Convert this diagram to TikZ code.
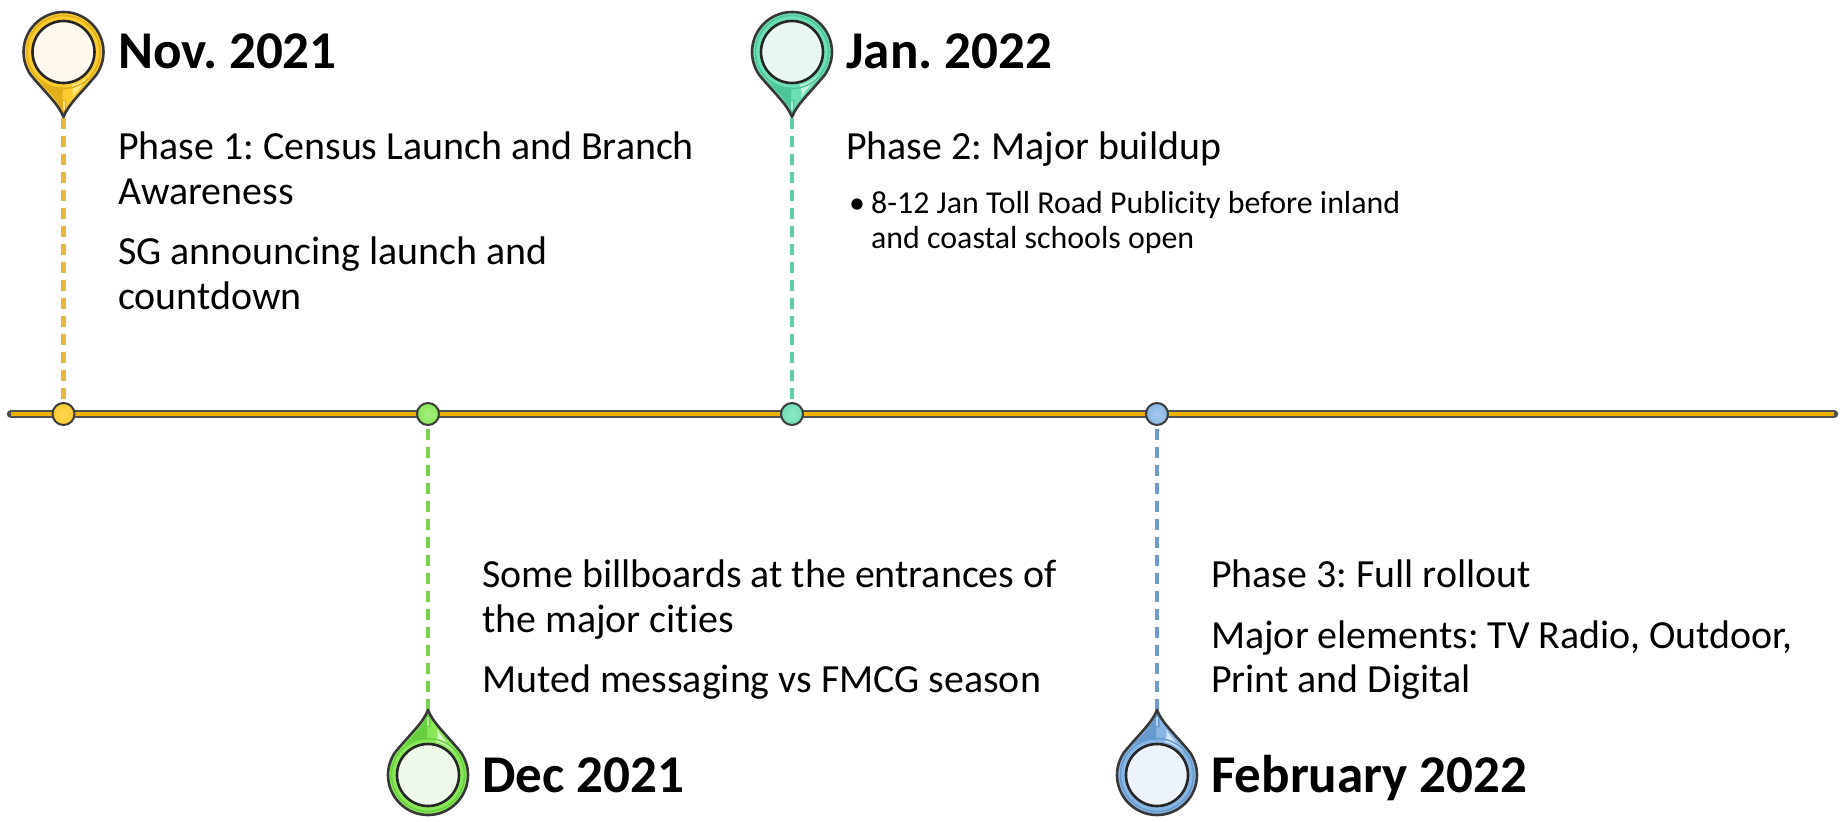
\documentclass[tikz,border=0pt]{standalone}
\usepackage{fontspec}
\setmainfont[RawFeature={-liga}]{Carlito}
\definecolor{goldM}{HTML}{FBCB30}\definecolor{goldD}{HTML}{E0AE18}\definecolor{goldL}{HTML}{FEE88A}\definecolor{goldP}{HTML}{FEF9EC}\definecolor{goldDash}{HTML}{E6B83C}
\definecolor{grnM}{HTML}{88E858}\definecolor{grnD}{HTML}{68D040}\definecolor{grnL}{HTML}{D8F8C4}\definecolor{grnP}{HTML}{EFF9E9}\definecolor{grnDash}{HTML}{78D24E}
\definecolor{tealM}{HTML}{6CE0B4}\definecolor{tealD}{HTML}{4CC698}\definecolor{tealL}{HTML}{C8F5E2}\definecolor{tealP}{HTML}{E8F7F2}\definecolor{tealDash}{HTML}{62D0A4}
\definecolor{bluM}{HTML}{88B6E4}\definecolor{bluD}{HTML}{669ACE}\definecolor{bluL}{HTML}{D4E6F8}\definecolor{bluP}{HTML}{EDF3FA}\definecolor{bluDash}{HTML}{6C9BCC}
\definecolor{railGold}{HTML}{EDB100}\definecolor{railEdge}{HTML}{3C3C3C}
\frenchspacing
\tikzset{
  title/.style={anchor=base west,inner sep=0pt,font=\fontsize{53.1}{53.1}\selectfont\bfseries},
  body/.style={anchor=base west,inner sep=0pt,font=\fontsize{39.9}{39.9}\selectfont},
  small/.style={anchor=base west,inner sep=0pt,font=\fontsize{31.9}{31.9}\selectfont},
  dot/.style={circle,draw=railEdge,line width=2pt,minimum size=22pt,inner sep=0pt},
  dashline/.style={line width=4.2pt,dash pattern=on 11pt off 7pt},
}
% #1 centre x, #2 centre y, #3 yscale (+1 tip down, -1 tip up), #4 colour prefix
\newcommand{\pinmark}[4]{%
\begin{scope}[shift={(#1,#2)},yscale=#3]
  \def\teardrop{(0,65) .. controls (-5,52) and (-17,42) .. (-33,22.6) .. controls (-37.4,16) and (-40,8) .. (-40,0) .. controls (-40,-22) and (-22,-40) .. (0,-40) .. controls (22,-40) and (40,-22) .. (40,0) .. controls (40,8) and (37.4,16) .. (33,22.6) .. controls (17,42) and (5,52) .. (0,65) -- cycle}
  \fill[#4M] \teardrop;
  \fill[#4D] (-24,30) .. controls (-16,35) and (-8,37) .. (-1,35) -- (-1,60) .. controls (-5,50) and (-14,40) .. (-24,30) -- cycle;
  \fill[#4L] (8,33) .. controls (14,32) and (22,28) .. (27,22) .. controls (20,32) and (12,40) .. (9,46) .. controls (10,42) and (10,37) .. (8,33) -- cycle;
  \fill[#4D] (-2.5,60) -- (-2.5,48) -- (2.5,48) -- (2.5,60) -- (0,63) -- cycle;
  \fill[#4M!60!white] (-1,58) -- (-1,49) -- (1,49) -- (1,58) -- cycle;
  \draw[#4D,line width=1.5pt] (0,0) circle[radius=36.5];
  \draw[black!78,line width=2.6pt,line join=round] \teardrop;
  \draw[black!85,line width=2.6pt,fill=#4P] (0,0) circle[radius=31];
\end{scope}}
\begin{document}
\frenchspacing
\begin{tikzpicture}[x=1pt,y=-1pt]
\useasboundingbox (0,0) rectangle (1845,822);
\fill[white] (0,0) rectangle (1845,822);
% rail
\coordinate (railL) at (11,414);
\coordinate (railR) at (1834,414);
\draw[railEdge!90,line width=8.5pt,line cap=round] (railL) -- (railR);
\draw[railGold,line width=4.6pt] (railL) -- (railR);
% markers on rail
\node[dot,inner color=goldM!60!goldL,outer color=goldM] (d1) at (63.5,414) {};
\node[dot,inner color=grnM!60!grnL,outer color=grnM] (d2) at (428,414) {};
\node[dot,inner color=tealM!60!tealL,outer color=tealM] (d3) at (792,414) {};
\node[dot,inner color=bluM!60!bluL,outer color=bluM] (d4) at (1157,414) {};
% pin tips
\coordinate (t1) at (63.5,118);
\coordinate (t2) at (428,710);
\coordinate (t3) at (792,118);
\coordinate (t4) at (1157,710);
\draw[goldDash,dashline] (t1) -- (d1);
\draw[grnDash,dashline] (t2) -- (d2);
\draw[tealDash,dashline] (t3) -- (d3);
\draw[bluDash,dashline] (t4) -- (d4);
\pinmark{63.5}{52}{1}{gold}
\pinmark{428}{775}{-1}{grn}
\pinmark{792}{52}{1}{teal}
\pinmark{1157}{775}{-1}{blu}
% titles
\node[title] (h1) at (118,68) {Nov.~2021};
\node[title] (h2) at (482,792) {Dec 2021};
\node[title] (h3) at (846,68) {Jan.~2022};
\node[title] (h4) at (1211,792) {February 2022};
% Nov
\node[body] (a1) at (118,159) {Phase 1: Census Launch and Branch};
\node[body] (a2) at (118,204) {Awareness};
\node[body] (a3) at (118,264) {SG announcing launch and};
\node[body] (a4) at (118,309) {countdown};
% Jan
\node[body] (c1) at (846,159) {Phase 2: Major buildup};
\node[small] (c0) at (849,213) {•};
\node[small] (c2) at (871,213) {8-12 Jan Toll Road Publicity before inland};
\node[small] (c3) at (871,248) {and coastal schools open};
% Dec
\node[body] (b1) at (482,587) {Some billboards at the entrances of};
\node[body] (b2) at (482,632) {the major cities};
\node[body] (b3) at (482,692) {Muted messaging vs FMCG season};
% Feb
\node[body] (e1) at (1211,587) {Phase 3: Full rollout};
\node[body] (e2) at (1211,648) {Major elements: TV Radio, Outdoor,};
\node[body] (e3) at (1211,692) {Print and Digital};
\end{tikzpicture}
\end{document}
